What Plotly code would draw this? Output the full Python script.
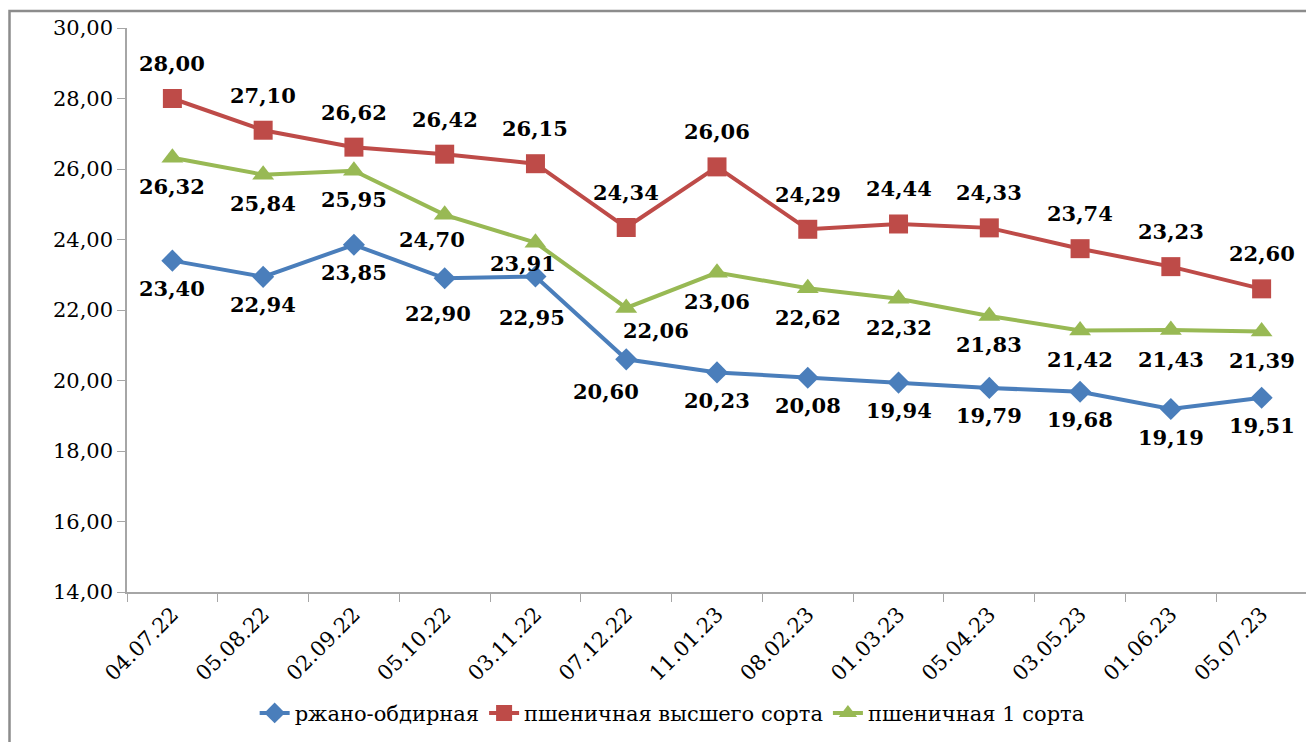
import plotly.graph_objects as go

dates = ["04.07.22", "05.08.22", "02.09.22", "05.10.22", "03.11.22", "07.12.22", "11.01.23",
         "08.02.23", "01.03.23", "05.04.23", "03.05.23", "01.06.23", "05.07.23"]
rye = [23.40, 22.94, 23.85, 22.90, 22.95, 20.60, 20.23, 20.08, 19.94, 19.79, 19.68, 19.19, 19.51]
wheat_top = [28.00, 27.10, 26.62, 26.42, 26.15, 24.34, 26.06, 24.29, 24.44, 24.33, 23.74, 23.23, 22.60]
wheat_1 = [26.32, 25.84, 25.95, 24.70, 23.91, 22.06, 23.06, 22.62, 22.32, 21.83, 21.42, 21.43, 21.39]
names = ["ржано-обдирная", "пшеничная высшего сорта", "пшеничная 1 сорта"]
y_ticks = [14, 16, 18, 20, 22, 24, 26, 28, 30]

FONT = "DejaVu Serif"

# label placement tweaks (style only): (series index, point index) -> (xshift, yshift)
label_tweaks = {
    (0, 3): (-7, -35), (0, 4): (-3, -41), (0, 5): (-20, -32),
    (2, 3): (-13, -25), (2, 4): (-12, -21), (2, 5): (30, -23),
}

series = [
    (names[0], rye, "#4A7EBB", "diamond", 17, -28),
    (names[1], wheat_top, "#BE4B48", "square", 19, 35),
    (names[2], wheat_1, "#98B954", "triangle-up", 19, -29),
]

fig = go.Figure()
annotations = []
for si, (name, vals, color, sym, size, shift) in enumerate(series):
    fig.add_trace(go.Scatter(
        x=dates, y=vals, name=name, mode="lines+markers",
        line=dict(color=color, width=4),
        marker=dict(symbol=sym, size=size, color=color),
    ))
    for pi, (d, v) in enumerate(zip(dates, vals)):
        xs, ys = label_tweaks.get((si, pi), (0, shift))
        annotations.append(dict(
            x=d, y=v, xref="x", yref="y", text="<b>" + f"{v:.2f}".replace(".", ",") + "</b>",
            showarrow=False, xshift=xs, yshift=ys,
            font=dict(family=FONT, size=21, color="black"),
        ))

W, H = 1306, 734
fig.update_layout(
    width=W, height=H,
    margin=dict(l=119, r=7, t=20, b=150, autoexpand=False),
    paper_bgcolor="white", plot_bgcolor="white",
    separators=", ",
    font=dict(family=FONT, color="black", size=20),
    annotations=annotations,
    showlegend=True,
    legend=dict(orientation="h", x=0.462, xanchor="center", y=-0.215, yanchor="middle",
                font=dict(family=FONT, size=21, color="black"),
                traceorder="normal", tracegroupgap=0),
    xaxis=dict(
        type="category", range=[-0.5, 12.5], autorange=False,
        showline=True, linecolor="#A6A6A6", linewidth=1.5,
        ticks="outside", ticklen=8, tickcolor="#A6A6A6", tickson="boundaries",
        tickangle=-45, showgrid=False, zeroline=False, automargin=False,
        tickfont=dict(family=FONT, size=21, color="black"),
    ),
    yaxis=dict(
        range=[14, 30], autorange=False, tickvals=y_ticks, tickformat=".2f",
        showline=True, linecolor="#A6A6A6", linewidth=1.5,
        ticks="outside", ticklen=8, tickcolor="#A6A6A6",
        showgrid=False, zeroline=False, automargin=False,
        tickfont=dict(family=FONT, size=21, color="black"),
    ),
    shapes=[dict(type="rect", xref="paper", yref="paper",
                 x0=(1.5 - 119) / 1180, x1=1.2, y0=-0.5, y1=(584 - 3) / 564,
                 line=dict(color="#8C8C8C", width=2.5), layer="below")],
)

fig.write_html("out.html")
